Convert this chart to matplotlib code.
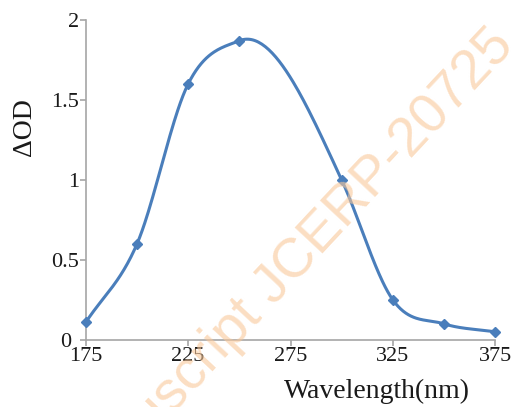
import numpy as np
import matplotlib
matplotlib.use("Agg")
import matplotlib.pyplot as plt
from matplotlib.transforms import ScaledTranslation

# Difference spectrum: wavelength (nm) vs change in optical density
wavelength = [175, 200, 225, 250, 300, 325, 350, 375]
delta_od = [0.11, 0.60, 1.60, 1.87, 1.00, 0.25, 0.10, 0.05]

x_ticks = [175, 225, 275, 325, 375]
y_ticks = [0, 0.5, 1, 1.5, 2]
y_tick_labels = ["0", "0.5", "1", "1.5", "2"]

line_color = "#4a7ebb"
axis_color = "#a6a6a6"


def smooth_curve(xs, ys, n=60):
    # piecewise cubic Hermite through the points; the slope at each inner point
    # blends the two neighbouring secants, leaning on the closer neighbour
    x = np.asarray(xs, float)
    y = np.asarray(ys, float)
    h = np.diff(x)
    d = np.diff(y) / h
    m = np.empty_like(y)
    m[0], m[-1] = d[0], d[-1]
    w_prev = h[1:] ** 2
    w_next = h[:-1] ** 2
    m[1:-1] = (w_prev * d[:-1] + w_next * d[1:]) / (w_prev + w_next)
    cx, cy = [], []
    t = np.linspace(0, 1, n)
    h00 = 2 * t ** 3 - 3 * t ** 2 + 1
    h10 = t ** 3 - 2 * t ** 2 + t
    h01 = -2 * t ** 3 + 3 * t ** 2
    h11 = t ** 3 - t ** 2
    for i in range(len(x) - 1):
        seg = h00 * y[i] + h10 * h[i] * m[i] + h01 * y[i + 1] + h11 * h[i] * m[i + 1]
        start = 0 if i == 0 else 1
        cx.append((x[i] + t * h[i])[start:])
        cy.append(seg[start:])
    return np.concatenate(cx), np.concatenate(cy)


plt.rcParams['font.family'] = ['Liberation Serif', 'DejaVu Serif']

fig = plt.figure(figsize=(5.11, 4.07), dpi=100)
ax = fig.add_axes([0.168, 0.165, 0.801, 0.786])

# watermark behind the plot
fig.text(1.01, 0.885, "Manuscript JCERP-20725", rotation=47, rotation_mode='anchor',
         ha='right', va='baseline', fontsize=40, color='#f9c89a', alpha=0.6,
         family=['Liberation Sans', 'DejaVu Sans'], zorder=0)
ax.set_facecolor('none')

sx, sy = smooth_curve(wavelength, delta_od)
ax.plot(sx, sy, color=line_color, linewidth=2.2, solid_capstyle='round', zorder=3)
ax.plot(wavelength, delta_od, linestyle='none', marker='D', markersize=5,
        color=line_color, zorder=4, clip_on=False)

ax.set_xlim(175, 375)
ax.set_ylim(0, 2)
ax.set_xticks(x_ticks)
ax.set_yticks(y_ticks)
ax.set_yticklabels(y_tick_labels)

for side in ['top', 'right']:
    ax.spines[side].set_visible(False)
for side in ['left', 'bottom']:
    ax.spines[side].set_color(axis_color)
    ax.spines[side].set_linewidth(1.2)

ax.tick_params(axis='both', direction='out', length=4, width=1.2, color=axis_color,
               labelsize=16, labelcolor='#1a1a1a', pad=1)

# nudge the "0" label left so it clears the first x tick label
zero_lbl = ax.yaxis.get_major_ticks()[0].label1
zero_lbl.set_transform(zero_lbl.get_transform() + ScaledTranslation(-0.08, 0, fig.dpi_scale_trans))

ax.set_xlabel("Wavelength(nm)", fontsize=20, color='#1a1a1a')
ax.xaxis.label.set_va('center')
ax.xaxis.set_label_coords(0.711, -0.1625)
ax.set_ylabel("ΔOD", fontsize=20, color='#1a1a1a')
ax.yaxis.label.set_va('center')
ax.yaxis.set_label_coords(-0.149, 0.666)

fig.savefig("out.png", dpi=100)
